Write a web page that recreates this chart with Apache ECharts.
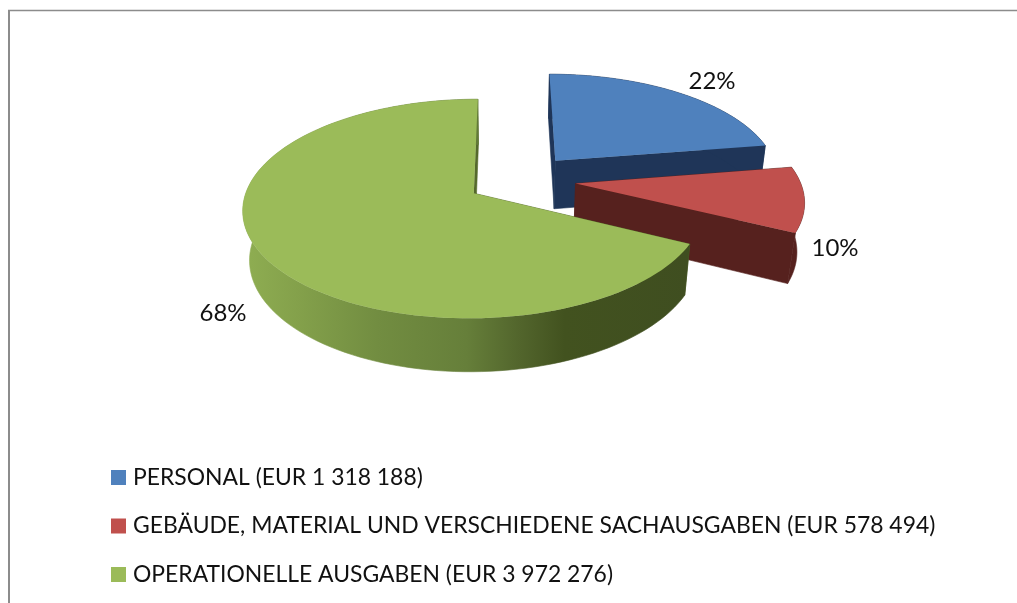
<!DOCTYPE html>
<html><head><meta charset="utf-8">
<style>html,body{margin:0;padding:0;background:#fff}#c{width:1017px;height:603px}</style>
<script src="https://cdn.jsdelivr.net/npm/echarts@6/dist/echarts.min.js"></script>
</head><body><div id="c"></div>
<script>
const categories = ['PERSONAL (EUR 1 318 188)','GEBÄUDE, MATERIAL UND VERSCHIEDENE SACHAUSGABEN (EUR 578 494)','OPERATIONELLE AUSGABEN (EUR 3 972 276)'];
const amounts = [1318188, 578494, 3972276];
const topColors = ['#4f81bd','#c0504d','#9bbb59'];
const wallColors = ['#1f3558','#56211e',null];
const labelPositions = [[712,81],[835,248],[223,313]];

// perspective projection of the tilted pie
const VIEW = {x0:506, y0:193, cx:228, cy:107.3, k:0.1416, kz:0.026, h:50.5, centerU:0.067, centerV:0.127, explode:0.245};
function project(u,v,z){
  const d = 1 + VIEW.k*v - VIEW.kz*z;
  return [VIEW.x0 + VIEW.cx*u/d, VIEW.y0 - (VIEW.cy*v + VIEW.h*z)/d];
}
const total = amounts.reduce((a,b)=>a+b,0);
const greenWall = {type:'linear',x:0,y:0,x2:1,y2:0,colorStops:[
  {offset:0,color:'#8fae52'},{offset:0.12,color:'#84a14b'},{offset:0.3,color:'#728d41'},
  {offset:0.5,color:'#667f3a'},{offset:0.62,color:'#52652c'},{offset:0.72,color:'#42521f'},{offset:1,color:'#3f4e20'}]};

function sliceShapes(idx){
  let acc = 0;
  for(let i=0;i<idx;i++) acc += amounts[i];
  const t0 = acc/total*2*Math.PI, t1 = (acc+amounts[idx])/total*2*Math.PI, mid=(t0+t1)/2;
  const au = VIEW.centerU + VIEW.explode*Math.sin(mid), av = VIEW.centerV + VIEW.explode*Math.cos(mid);
  const n = 120, top=[], bot=[];
  for(let i=0;i<=n;i++){
    const t=t0+(t1-t0)*i/n, u=au+Math.sin(t), v=av+Math.cos(t);
    top.push(project(u,v,0)); bot.push(project(u,v,-1));
  }
  const apexT=project(au,av,0), apexB=project(au,av,-1);
  const wall = wallColors[idx] || greenWall;
  const dark = wallColors[idx] || '#55692c';
  const children=[
    {type:'polygon',silent:true,shape:{points:[apexT,top[0],bot[0],apexB]},style:{fill:dark,stroke:dark,lineWidth:0.6}},
    {type:'polygon',silent:true,shape:{points:[apexT,top[n],bot[n],apexB]},style:{fill:dark,stroke:dark,lineWidth:0.6}},
    {type:'polygon',silent:true,shape:{points:top.concat(bot.slice().reverse())},style:{fill:wall,stroke:wall,lineWidth:0.6}},
    {type:'polygon',silent:true,shape:{points:[apexT].concat(top)},style:{fill:topColors[idx]}},
    {type:'text',silent:true,style:{x:labelPositions[idx][0],y:labelPositions[idx][1],
      text:Math.round(amounts[idx]/total*100)+'%',fill:'#111',
      font:'24px Lato',align:'center',verticalAlign:'middle'}}
  ];
  return {type:'group',children};
}
const chart = echarts.init(document.getElementById('c'),null,{renderer:'canvas'});
chart.setOption({
  animation:false,
  backgroundColor:'#fff',
  legend:{
    orient:'vertical',left:111,top:464,itemWidth:15,itemHeight:15,itemGap:21.5,
    icon:'rect',selectedMode:false,padding:0,
    textStyle:{fontFamily:'Lato',fontSize:22.9,color:'#111',lineHeight:27,padding:[0,0,0,2]},
    data:categories
  },
  graphic:[
    {type:'line',silent:true,shape:{x1:8,y1:10.5,x2:1017,y2:10.5},style:{stroke:'#8c8c8c',lineWidth:1.5}},
    {type:'line',silent:true,shape:{x1:9,y1:10,x2:9,y2:603},style:{stroke:'#8c8c8c',lineWidth:2}}
  ],
  series:categories.map((name,i)=>({
    type:'custom',name,coordinateSystem:'none',
    itemStyle:{color:topColors[i]},
    data:[amounts[i]],
    renderItem:()=>sliceShapes(i)
  }))
});
</script></body></html>
